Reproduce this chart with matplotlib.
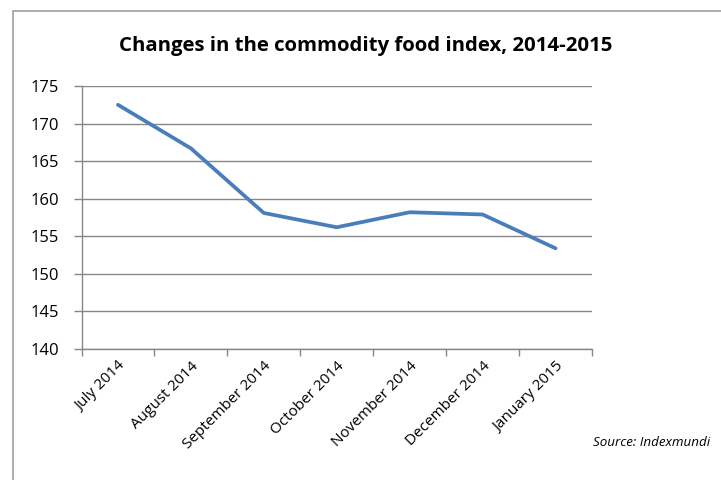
import matplotlib
matplotlib.use("Agg")
import matplotlib.pyplot as plt
from matplotlib.patches import Rectangle
import numpy as np

months = ["July 2014", "August 2014", "September 2014", "October 2014",
          "November 2014", "December 2014", "January 2015"]
food_index = [172.5, 166.7, 158.1, 156.2, 158.2, 157.9, 153.4]
y_ticks = [140, 145, 150, 155, 160, 165, 170, 175]

plt.rcParams['font.family'] = ['Open Sans', 'DejaVu Sans']

W, H = 721, 480
fig = plt.figure(figsize=(W / 100, H / 100), dpi=100)

# chart frame
fig.patches.append(Rectangle((13 / W, -0.05), 1.0, 1 - 11 / H + 0.05,
                             transform=fig.transFigure, fill=False,
                             edgecolor='#a0a0a0', linewidth=1.2))

left, right, top, bottom = 81.5, 592, 86, 349
ax = fig.add_axes([left / W, 1 - bottom / H, (right - left) / W, (bottom - top) / H])

x = np.arange(len(months)) + 0.5
ax.plot(x, food_index, color='#4a7ebb', linewidth=2.7, solid_capstyle='round',
        solid_joinstyle='round', zorder=3)

ax.set_xlim(0, len(months))
ax.set_ylim(140, 175)
ax.set_yticks(y_ticks)
ax.set_xticks(np.arange(len(months) + 1))
ax.set_xticklabels([])
ax.set_xticks(x, minor=True)
ax.set_xticklabels(months, minor=True, rotation=45, ha='right',
                   rotation_mode='anchor', fontsize=11)
ax.tick_params(axis='x', which='minor', length=0, pad=7)
ax.tick_params(axis='x', which='major', length=5, color='#868686', width=1)
ax.tick_params(axis='y', length=6, color='#868686', width=1, labelsize=12, pad=10)

ax.grid(axis='y', color='#868686', linewidth=1)
ax.set_axisbelow(True)
for s in ('top', 'right'):
    ax.spines[s].set_visible(False)
for s in ('left', 'bottom'):
    ax.spines[s].set_color('#868686')
    ax.spines[s].set_linewidth(1)

fig.text(366 / W, 1 - 46 / H, "Changes in the commodity food index, 2014-2015",
         ha='center', va='center', fontsize=14.7, fontweight='bold')
fig.text(710 / W, 1 - 443 / H, "Source: Indexmundi", ha='right', va='center',
         fontsize=9.6, style='italic')

fig.savefig("out.png", dpi=100)
